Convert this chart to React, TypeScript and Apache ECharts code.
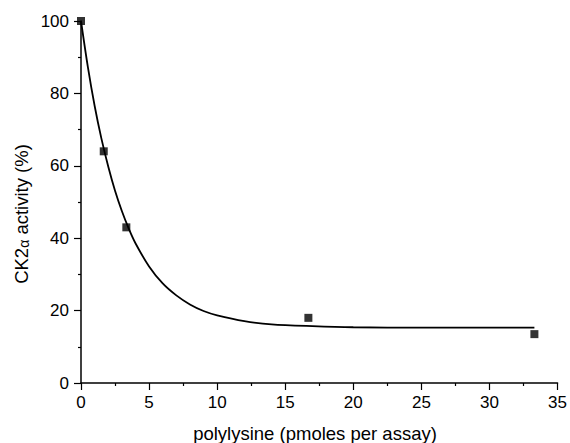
import React, { useEffect, useRef } from "react";
import * as echarts from "echarts";

const measuredX = [0, 1.67, 3.33, 16.7, 33.3];
const measuredY = [100, 64, 43, 18, 13.5];

const curveX = [0, 0.5, 1, 1.5, 2, 2.5, 3, 3.5, 4, 5, 6, 7, 8, 9, 10, 12, 14, 17, 20, 25, 30, 33.3];
const curveY = [100, 87.4, 76.6, 67.5, 59.8, 53.1, 47.5, 42.7, 38.6, 32.2, 27.5, 24.2, 21.7, 19.9, 18.7, 17.1, 16.2, 15.7, 15.4, 15.3, 15.3, 15.3];

const xTicks = [0, 5, 10, 15, 20, 25, 30, 35];
const yTicks = [0, 20, 40, 60, 80, 100];

const xTitle = "polylysine (pmoles per assay)";
const yTitle = "CK2{a|α} activity (%)";

const FONT = "Liberation Sans, Arial, Helvetica, sans-serif";

export default function App() {
  const ref = useRef<HTMLDivElement>(null);
  useEffect(() => {
    document.body.style.margin = "0";
    if (!ref.current) return;
    const chart = echarts.init(ref.current, undefined, { renderer: "svg" });
    const axisCommon = {
      axisLine: { show: true, lineStyle: { color: "#000", width: 1.5 } },
      axisTick: { show: true, inside: false, length: 7, lineStyle: { color: "#000", width: 1.2 } },
      minorTick: { show: true, splitNumber: 2, length: 3, lineStyle: { color: "#000", width: 1.2 } },
      splitLine: { show: false },
      axisLabel: { color: "#000", fontSize: 17, fontFamily: FONT },
    };
    chart.setOption({
      animation: false,
      backgroundColor: "#fff",
      grid: { left: 81, right: 10, top: 21, bottom: 60, containLabel: false },
      xAxis: {
        type: "value",
        min: xTicks[0],
        max: xTicks[xTicks.length - 1],
        interval: xTicks[1] - xTicks[0],
        ...axisCommon,
        axisLabel: { ...axisCommon.axisLabel, margin: 11 },
      },
      yAxis: {
        type: "value",
        min: yTicks[0],
        max: yTicks[yTicks.length - 1],
        interval: yTicks[1] - yTicks[0],
        ...axisCommon,
        axisLabel: { ...axisCommon.axisLabel, margin: 12 },
      },
      graphic: [
        {
          type: "text",
          x: 315,
          y: 433,
          style: {
            text: xTitle,
            font: `18.5px ${FONT}`,
            fill: "#000",
            textAlign: "center",
            textVerticalAlign: "middle",
          },
        },
        {
          type: "text",
          x: 21,
          y: 214,
          rotation: Math.PI / 2,
          style: {
            text: yTitle,
            fontSize: 18.5,
            fontFamily: FONT,
            fill: "#000",
            textAlign: "center",
            textVerticalAlign: "middle",
            rich: {
              a: { fontSize: 14, fontFamily: FONT, fill: "#000", padding: [6, 0, 0, 0] },
            },
          },
        },
      ],
      series: [
        {
          type: "line",
          data: curveX.map((x, i) => [x, curveY[i]]),
          smooth: 0.3,
          showSymbol: false,
          symbol: "none",
          lineStyle: { color: "#000", width: 1.8 },
          z: 2,
        },
        {
          type: "scatter",
          data: measuredX.map((x, i) => [x, measuredY[i]]),
          symbol: "rect",
          symbolSize: 8,
          itemStyle: { color: "#000" },
          z: 3,
        },
      ],
    });
    return () => chart.dispose();
  }, []);
  return (
    <div
      ref={ref}
      style={{ position: "fixed", left: 0, top: 0, width: 570, height: 443 }}
    />
  );
}
